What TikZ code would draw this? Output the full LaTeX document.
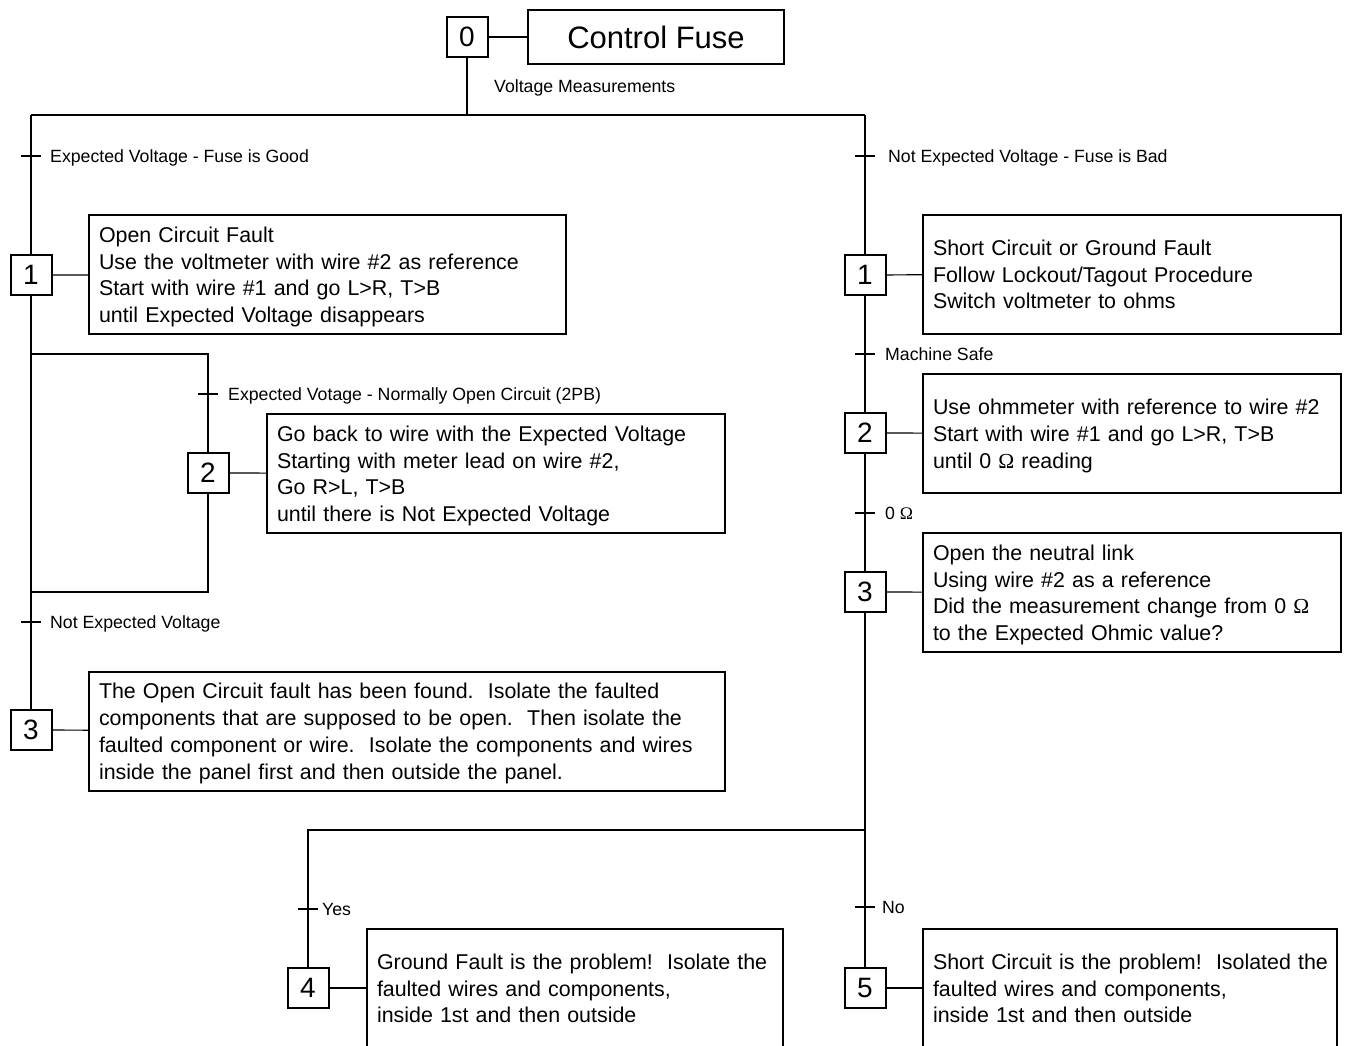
\documentclass[tikz,border=0pt]{standalone}
\usepackage{fontspec}
\setmainfont{Liberation Sans}
\newfontfamily\omfont{Liberation Serif}
\newcommand{\Om}{{\omfont Ω}}
\newcommand{\topst}{\rule{0pt}{16pt}}
\newcommand{\nodp}[1]{\raisebox{0pt}[\height][0pt]{#1}}
\begin{document}
\begin{tikzpicture}[x=1pt,y=-1pt,
  conn/.style={line width=1.2pt},
  stepbox/.style={draw,line width=2pt,minimum width=41pt,minimum height=40pt,inner sep=0pt,font=\fontsize{28}{30}\selectfont},
  bigbox/.style={draw,line width=2pt,minimum height=119pt,inner xsep=10pt,inner ysep=0pt,align=left,text width=#1,font=\fontsize{21.4}{26.7}\selectfont},
  lbl/.style={anchor=base west,inner sep=0pt,font=\fontsize{17.7}{20}\selectfont},
]
\useasboundingbox (0,0) rectangle (1345,1045);
\clip (0,0) rectangle (1345,1045);

% top
\node[stepbox] (s0) at (467,37) {0};
\node[draw,line width=2pt,minimum width=256pt,minimum height=54pt,inner sep=0pt,font=\fontsize{31}{33}\selectfont] (cf) at (656,37) {Control Fuse};
\draw[conn] (s0) -- (cf);
\node[lbl] (lvm) at (494,92) {Voltage Measurements};

\coordinate (j0) at (467,115);
\coordinate (jl) at (31,115);
\coordinate (jr) at (865,115);

% left column
\node[stepbox] (sL1) at (31,275) {1};
\node[bigbox=457pt] (bL1) at (327.5,274.5) {\topst Open Circuit Fault\\Use the voltmeter with wire \#2 as reference\\Start with wire \#1 and go L>R, T>B\\\nodp{until Expected Voltage disappears}};
\node[stepbox] (sL2) at (208,473) {2};
\node[bigbox=438pt] (bL2) at (496,473.5) {\topst Go back to wire with the Expected Voltage\\Starting with meter lead on wire \#2,\\Go R>L, T>B\\\nodp{until there is Not Expected Voltage}};
\node[stepbox] (sL3) at (31,730) {3};
\node[bigbox=616pt] (bL3) at (407,731) {\topst The Open Circuit fault has been found.\ \ Isolate the faulted\\components that are supposed to be open.\ \ Then isolate the\\faulted component or wire.\ \ Isolate the components and wires\\\nodp{inside the panel first and then outside the panel.}};

% right column
\node[stepbox] (sR1) at (865,275) {1};
\node[bigbox=398pt] (bR1) at (1132,274) {\topst Short Circuit or Ground Fault\\Follow Lockout/Tagout Procedure\\\nodp{Switch voltmeter to ohms}};
\node[stepbox] (sR2) at (865,433) {2};
\node[bigbox=398pt] (bR2) at (1132,433.5) {\topst Use ohmmeter with reference to wire \#2\\Start with wire \#1 and go L>R, T>B\\\nodp{until 0 \Om{} reading}};
\node[stepbox] (sR3) at (865,592) {3};
\node[bigbox=398pt] (bR3) at (1132,592.5) {\topst Open the neutral link\\Using wire \#2 as a reference\\Did the measurement change from 0 \Om\\\nodp{to the Expected Ohmic value?}};

% bottom
\node[stepbox] (s4) at (308,988) {4};
\node[bigbox=396pt] (b4) at (575,988) {\topst\mbox{Ground Fault is the problem!\ \ Isolate the}\\faulted wires and components,\\\nodp{inside 1st and then outside}};
\node[stepbox] (s5) at (865,988) {5};
\node[bigbox=394pt] (b5) at (1130,988) {\topst\mbox{Short Circuit is the problem!\ \ Isolated the}\\faulted wires and components,\\\nodp{inside 1st and then outside}};

% connectors
\draw[conn] (s0) -- (j0);
\draw[conn] (jl) -- (jr);
\draw[conn] (jl) -- (sL1);
\draw[conn] (sL1) -- (sL3);
\draw[conn] (sL1) -- (bL1);
\draw[conn] (sL2) -- (bL2);
\draw[conn] (sL3) -- (bL3);
\coordinate (la) at (31,354);
\coordinate (lb) at (208,354);
\coordinate (lc) at (208,592);
\coordinate (ld) at (31,592);
\draw[conn] (la) -- (lb) -- (sL2);
\draw[conn] (sL2) -- (lc) -- (ld);

\draw[conn] (jr) -- (sR1);
\draw[conn] (sR1) -- (sR2);
\draw[conn] (sR2) -- (sR3);
\draw[conn] (sR3) -- (s5);
\draw[conn] (sR1) -- (bR1);
\draw[conn] (sR2) -- (bR2);
\draw[conn] (sR3) -- (bR3);
\coordinate (jb) at (865,830);
\coordinate (jb4) at (308,830);
\draw[conn] (jb) -- (jb4) -- (s4);
\draw[conn] (s4) -- (b4);
\draw[conn] (s5) -- (b5);

% ticks
\foreach \x/\y in {31/156,865/156,208/394,31/622,865/354,865/513,308/909,865/907}
  \draw[conn] (\x-10,\y) -- (\x+10,\y);

% labels
\node[lbl] (t1) at (50,162) {Expected Voltage - Fuse is Good};
\node[lbl] (t2) at (888,162) {Not Expected Voltage - Fuse is Bad};
\node[lbl] (t3) at (228,400) {Expected Votage - Normally Open Circuit (2PB)};
\node[lbl] (t4) at (50,628) {Not Expected Voltage};
\node[lbl] (t5) at (885,360) {Machine Safe};
\node[lbl] (t6) at (885,519) {0 \Om};
\node[lbl] (t7) at (322,915) {Yes};
\node[lbl] (t8) at (882,913) {No};
\end{tikzpicture}
\end{document}
